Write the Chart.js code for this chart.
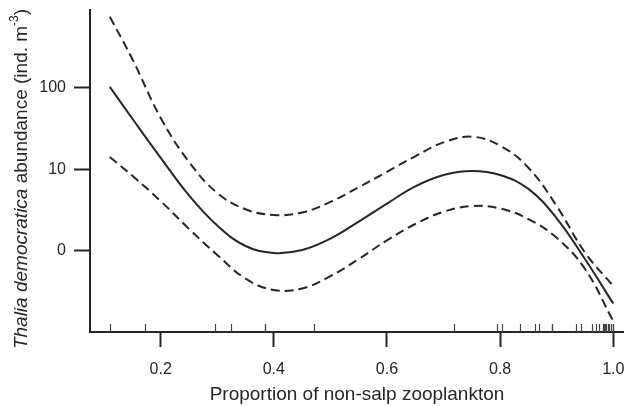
<!DOCTYPE html>
<html>
<head>
<meta charset="utf-8">
<script src="https://cdn.jsdelivr.net/npm/chart.js@4.4.1/dist/chart.umd.min.js"></script>
<style>
  body { margin: 0; background: #fff; }
  canvas { display: block; }
</style>
</head>
<body>
<canvas id="chart-gam" width="624" height="406"></canvas>
<script>
// proportion of non-salp zooplankton (x) and the smooth fit, on the log10(y+1) scale
const proportion = [0.11, 0.15, 0.2, 0.25, 0.3, 0.35, 0.4, 0.45, 0.5, 0.55, 0.6, 0.65, 0.7, 0.75, 0.8, 0.85, 0.9, 0.95, 1.0];
const fitted    = [2.01, 1.62, 1.14, 0.68, 0.31, 0.06, -0.025, 0.01, 0.15, 0.36, 0.58, 0.79, 0.93, 0.98, 0.93, 0.76, 0.40, -0.10, -0.645];
const upperCI   = [2.87, 2.35, 1.63, 1.09, 0.71, 0.51, 0.44, 0.47, 0.60, 0.78, 0.97, 1.16, 1.33, 1.40, 1.29, 1.02, 0.55, -0.02, -0.43];
const lowerCI   = [1.15, 0.92, 0.61, 0.27, -0.05, -0.34, -0.48, -0.46, -0.31, -0.10, 0.13, 0.33, 0.48, 0.55, 0.52, 0.39, 0.16, -0.22, -0.86];

// observed proportions shown as a rug along the x axis
const rugValues = [0.110, 0.172, 0.296, 0.324, 0.384, 0.384, 0.471, 0.719, 0.795, 0.804, 0.835, 0.861, 0.869,
                   0.891, 0.891, 0.935, 0.943, 0.963, 0.969, 0.975, 0.981, 0.984, 0.986, 0.988, 0.991, 0.993, 0.996, 0.999, 0.999];

const xTicks = [0.2, 0.4, 0.6, 0.8, 1.0];
const xTickLabels = ['0.2', '0.4', '0.6', '0.8', '1.0'];
const yTicks = [0, 1, 2];
const yTickLabels = ['0', '10', '100'];

const ink = '#262626';
const fontFamily = '"Liberation Sans", Arial, sans-serif';

function toPoints(ys) {
    return proportion.map((x, i) => ({ x: x, y: ys[i] }));
}

// rug marks drawn from the x scale
const rugPlugin = {
    id: 'rug',
    afterDatasetsDraw(chart) {
        const ctx = chart.ctx;
        const xs = chart.scales.x;
        const bottom = chart.chartArea.bottom;
        ctx.save();
        ctx.strokeStyle = '#444';
        ctx.lineWidth = 1.2;
        rugValues.forEach(v => {
            const px = Math.round(xs.getPixelForValue(v)) + 0.5;
            ctx.beginPath();
            ctx.moveTo(px, bottom);
            ctx.lineTo(px, bottom - 8);
            ctx.stroke();
        });
        ctx.restore();
    }
};

// y title: italic species name, superscript unit
const yTitlePlugin = {
    id: 'yTitle',
    afterDraw(chart) {
        const ctx = chart.ctx;
        const size = 19;
        const parts = [
            { text: 'Thalia democratica', font: 'italic ' + size + 'px ' + fontFamily, dy: 0 },
            { text: ' abundance (ind. m', font: size + 'px ' + fontFamily, dy: 0 },
            { text: '-3', font: Math.round(size * 0.62) + 'px ' + fontFamily, dy: -7 },
            { text: ')', font: size + 'px ' + fontFamily, dy: 0 }
        ];
        let total = 0;
        parts.forEach(p => { ctx.font = p.font; p.w = ctx.measureText(p.text).width; total += p.w; });
        ctx.save();
        ctx.translate(22, 179);
        ctx.rotate(-Math.PI / 2);
        ctx.fillStyle = ink;
        ctx.textBaseline = 'middle';
        let x = -total / 2;
        parts.forEach(p => {
            ctx.font = p.font;
            ctx.fillText(p.text, x, p.dy);
            x += p.w;
        });
        ctx.restore();
    }
};

const lineStyle = { borderColor: ink, borderWidth: 2, pointRadius: 0, tension: 0.4, fill: false };

new Chart(document.getElementById('chart-gam').getContext('2d'), {
    type: 'line',
    data: {
        datasets: [
            Object.assign({ label: 'upper', data: toPoints(upperCI), borderDash: [9, 5] }, lineStyle),
            Object.assign({ label: 'fit', data: toPoints(fitted) }, lineStyle),
            Object.assign({ label: 'lower', data: toPoints(lowerCI), borderDash: [9, 5] }, lineStyle)
        ]
    },
    options: {
        responsive: false,
        animation: false,
        layout: { padding: { top: 10, left: 0, right: 0, bottom: 0 } },
        plugins: { legend: { display: false }, tooltip: { enabled: false } },
        scales: {
            x: {
                type: 'linear',
                min: 0.075,
                max: 1.019,
                afterBuildTicks: axis => { axis.ticks = xTicks.map(v => ({ value: v })); },
                afterFit: axis => { axis.height = 74; axis.paddingLeft = 0; axis.paddingRight = 0; },
                ticks: {
                    color: ink,
                    font: { family: fontFamily, size: 16 },
                    padding: 13,
                    maxRotation: 0,
                    callback: (v) => xTickLabels[xTicks.indexOf(v)]
                },
                grid: { drawOnChartArea: false, tickLength: 15, tickWidth: 2, tickColor: ink },
                border: { color: ink, width: 2 },
                title: {
                    display: true,
                    text: 'Proportion of non-salp zooplankton',
                    color: ink,
                    font: { family: fontFamily, size: 19 },
                    padding: { top: 0, bottom: 0 }
                }
            },
            y: {
                type: 'linear',
                min: -0.994,
                max: 2.953,
                afterBuildTicks: axis => { axis.ticks = yTicks.map(v => ({ value: v })); },
                afterFit: axis => { axis.width = 90; axis.paddingTop = 0; axis.paddingBottom = 0; },
                ticks: {
                    color: ink,
                    font: { family: fontFamily, size: 16 },
                    padding: 8,
                    callback: (v) => yTickLabels[yTicks.indexOf(v)]
                },
                grid: { drawOnChartArea: false, tickLength: 16, tickWidth: 2, tickColor: ink },
                border: { color: ink, width: 2 }
            }
        }
    },
    plugins: [rugPlugin, yTitlePlugin]
});
</script>
</body>
</html>
